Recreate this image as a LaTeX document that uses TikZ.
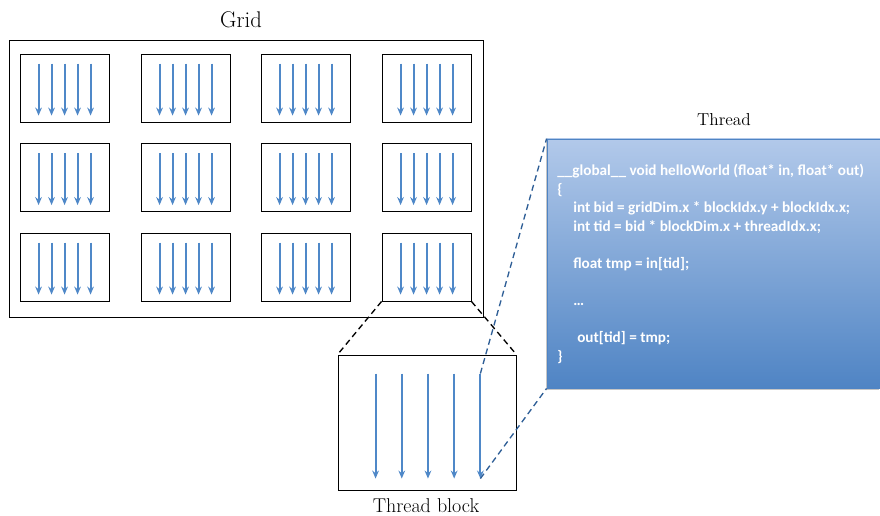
\documentclass[tikz,border=0pt]{standalone}
\usepackage{fontspec}
\newfontfamily\codefont{Carlito}
\usetikzlibrary{calc,positioning,arrows.meta,shadows}
\definecolor{thrBlue}{HTML}{4F88C8}
\definecolor{codeTop}{HTML}{B2C9EA}
\definecolor{codeBot}{HTML}{4F84C4}
\definecolor{linkBlue}{HTML}{2E5E96}

\begin{document}
\begin{tikzpicture}[x=0.75pt,y=-0.75pt,
  blk/.style={draw,line width=0.65pt,minimum width=66.75pt,
              minimum height=51pt,inner sep=0},
  thr/.style={-{Stealth[length=6pt,width=5pt]},thrBlue,line width=1.5pt},
  zoomline/.style={dash pattern=on 4.5pt off 3pt,line width=1pt},
  lbl/.style={inner sep=0}]
  \useasboundingbox (0,0) rectangle (880,516);

  % grid of blocks
  \node[blk,minimum width=355.5pt,minimum height=207.75pt] (grid) at (246,178.5) {};
  \node[lbl,font=\fontsize{17}{20}\selectfont] (gridlbl) at (241,20) {Grid};
  \foreach \c/\x in {1/64.5,2/185.5,3/305.5,4/426.5}
    \foreach \r/\y in {1/88,2/177.5,3/267}{
      \node[blk] (b\r\c) at (\x,\y) {};
      \foreach \k in {0,...,4}
        \draw[thr] ($(b\r\c.north west)+(19+13*\k,10)$) -- ++(0,52);
    }

  % thread block
  \node[blk,minimum width=133.5pt,minimum height=101.25pt] (tb) at (427,422.5) {};
  \node[lbl,font=\fontsize{15}{18}\selectfont] (tblbl) at (426,505.5) {Thread block};
  \foreach \k in {0,...,4}{
    \coordinate (t\k s) at ($(tb.north west)+(38+26.2*\k,19)$);
    \coordinate (t\k e) at ($(t\k s)+(0,105)$);
    \draw[thr] (t\k s) -- (t\k e);
  }
  \draw[zoomline] (b34.south west) -- (tb.north west);
  \draw[zoomline] (b34.south east) -- (tb.north east);

  % thread code
  \node[draw=codeBot,line width=0.6pt,top color=codeTop,bottom color=codeBot,
        minimum width=249.75pt,minimum height=186.75pt,inner sep=0,
        drop shadow={shadow xshift=-1pt,shadow yshift=-1.5pt,opacity=0.45}]
        (codebox) at (713.5,263.5) {};
  \node[lbl,font=\fontsize{13}{16}\selectfont] (thrlbl) at (724,120) {Thread};
  \node[lbl,anchor=north west,align=left,text=white,
        font=\codefont\bfseries\fontsize{11.4}{13.95}\selectfont] (code) at (557,164)
    {\_\_global\_\_ void helloWorld (float* in, float* out)\\
     \{\\
     \hspace*{12pt}int bid = gridDim.x * blockIdx.y + blockIdx.x;\\
     \hspace*{12pt}int tid = bid * blockDim.x + threadIdx.x;\\[13.95pt]
     \hspace*{12pt}float tmp = in[tid];\\[13.95pt]
     \hspace*{12pt}…\\[13.95pt]
     \hspace*{15pt}out[tid] = tmp;\\
     \}};
  \draw[zoomline,linkBlue] (t4s) -- (codebox.north west);
  \draw[zoomline,linkBlue] (t4e) -- (codebox.south west);
\end{tikzpicture}
\end{document}
